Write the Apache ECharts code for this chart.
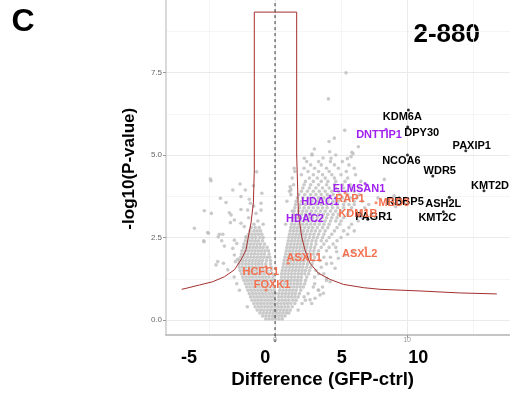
<!DOCTYPE html>
<html>
<head>
<meta charset="utf-8">
<script src="https://cdn.jsdelivr.net/npm/echarts@6/dist/echarts.min.js"></script>
<style>
html,body{margin:0;padding:0;background:#fff;}
#chart{width:510px;height:395px;}
</style>
</head>
<body>
<div id="chart"></div>
<script>
// ---------------- DATA ----------------
const yTickValues = [0, 2.5, 5, 7.5];
const xSmallTickValues = [0, 10];
const xBigTickValues = [-5, 0, 5, 10];
const xMajorGrid = [0, 10];
const xMinorGrid = [-5, 5, 15];
const yMajorGrid = [0, 2.5, 5, 7.5];
const yMinorGrid = [1.25, 3.75, 6.25, 8.75];

// threshold curve
const curveX = [-7.07,-6.74,-5.73,-4.72,-3.84,-3.08,-2.58,-2.2,-2.07,-1.82,-1.64,-1.57,-1.57,
                 1.64,1.64,1.77,2.02,2.27,2.65,3.28,4.17,5.17,6.69,7.95,10.98,14.0,16.8];
const curveY = [0.93,0.96,1.06,1.16,1.31,1.52,1.82,2.12,2.42,2.94,3.55,4.55,9.33,
                9.33,5.0,3.24,2.52,2.12,1.72,1.42,1.23,1.08,0.98,0.93,0.88,0.82,0.79];

// dashed zero line
const zeroLineX = [0, 0];
const zeroLineY = [-0.67, 9.7];

// gray cloud: rows of [y, x-values]
const cloudRows = [
 [0.03,[-0.7,-0.45,-0.2,0.05,0.3,0.55]],
 [0.12,[-0.95,-0.7,-0.45,-0.2,0.0,0.25,0.5,0.75]],
 [0.21,[-1.15,-0.9,-0.65,-0.4,-0.15,0.1,0.35,0.6,0.85,1.05]],
 [0.3,[-1.35,-1.1,-0.85,-0.6,-0.35,-0.1,0.15,0.4,0.65,0.9,1.15,1.75]],
 [0.4,[-2.1,-1.5,-1.25,-1.0,-0.75,-0.5,-0.25,0.0,0.25,0.5,0.75,1.0,1.3]],
 [0.5,[-1.6,-1.35,-1.1,-0.85,-0.6,-0.35,-0.1,0.2,0.45,0.7,0.95,1.2,1.5,2.05]],
 [0.6,[-1.75,-1.5,-1.25,-1.0,-0.75,-0.5,-0.25,0.0,0.3,0.55,0.8,1.05,1.35,1.6,2.3]],
 [0.7,[-1.85,-1.6,-1.35,-1.1,-0.85,-0.6,-0.35,-0.1,0.25,0.5,0.75,1.0,1.25,1.5,1.75,2.2]],
 [0.8,[-1.95,-1.7,-1.45,-1.2,-0.95,-0.7,-0.45,-0.2,0.05,0.3,0.55,0.8,1.05,1.3,1.55,1.85,2.5]],
 [0.9,[-2.7,-2.05,-1.8,-1.55,-1.3,-1.05,-0.8,-0.55,-0.3,-0.05,0.35,0.6,0.85,1.1,1.35,1.6,1.95,3.3]],
 [1.0,[-2.15,-1.9,-1.65,-1.4,-1.15,-0.9,-0.65,-0.4,-0.1,0.4,0.65,0.9,1.15,1.4,1.65,1.9,2.15,2.9,3.6]],
 [1.1,[-2.9,-2.25,-2.0,-1.75,-1.5,-1.25,-1.0,-0.75,-0.5,-0.2,0.45,0.7,0.95,1.2,1.45,1.7,1.95,2.25,3.0]],
 [1.2,[-2.35,-2.1,-1.85,-1.6,-1.35,-1.1,-0.85,-0.6,-0.3,-0.1,0.45,0.7,0.95,1.2,1.45,1.7,1.95,2.3,3.9]],
 [1.3,[-3.1,-2.45,-2.2,-1.95,-1.7,-1.45,-1.2,-0.95,-0.7,-0.45,-0.15,0.5,0.75,1.0,1.25,1.5,1.75,2.0,2.4,3.0]],
 [1.4,[-2.55,-2.3,-2.05,-1.8,-1.55,-1.3,-1.05,-0.8,-0.5,-0.2,0.5,0.75,1.0,1.25,1.5,1.75,2.0,2.25,2.55,3.3,3.7]],
 [1.5,[-2.65,-2.4,-2.15,-1.9,-1.65,-1.4,-1.15,-0.9,-0.6,-0.3,0.55,0.8,1.05,1.3,1.55,1.8,2.05,2.3,2.6,3.1]],
 [1.6,[-2.7,-2.45,-2.2,-1.95,-1.7,-1.45,-1.2,-0.95,-0.65,-0.3,0.6,0.85,1.1,1.35,1.6,1.85,2.1,2.4,2.7,3.5]],
 [1.7,[-2.75,-2.5,-2.25,-2.0,-1.75,-1.5,-1.25,-1.0,-0.7,-0.35,0.65,0.9,1.15,1.4,1.65,1.9,2.15,2.45,2.8,3.9]],
 [1.8,[-2.7,-2.45,-2.2,-1.95,-1.7,-1.45,-1.2,-0.95,-0.65,-0.35,0.7,0.95,1.2,1.45,1.7,1.95,2.2,2.5,2.9,3.4]],
 [1.9,[-2.6,-2.35,-2.1,-1.85,-1.6,-1.35,-1.1,-0.85,-0.6,-0.4,0.75,1.0,1.25,1.5,1.75,2.0,2.25,2.55,3.0,3.7,4.2]],
 [2.0,[-2.55,-2.3,-2.05,-1.8,-1.55,-1.3,-1.05,-0.8,-0.45,0.8,1.05,1.3,1.55,1.8,2.05,2.3,2.6,2.9,3.2]],
 [2.1,[-2.5,-2.25,-2.0,-1.75,-1.5,-1.25,-1.0,-0.75,-0.5,0.85,1.1,1.35,1.6,1.85,2.1,2.35,2.65,2.95,3.3,3.9]],
 [2.2,[-2.4,-2.15,-1.9,-1.65,-1.4,-1.15,-0.9,-0.6,0.9,1.15,1.4,1.65,1.9,2.15,2.4,2.7,3.0,3.5,4.1,4.6]],
 [2.3,[-2.35,-2.1,-1.85,-1.6,-1.35,-1.1,-0.8,0.95,1.2,1.45,1.7,1.95,2.2,2.45,2.75,3.1,3.7,4.4]],
 [2.4,[-2.25,-2.0,-1.75,-1.5,-1.25,-0.95,1.0,1.25,1.5,1.75,2.0,2.25,2.5,2.8,3.1,3.5,3.9,4.7]],
 [2.5,[-2.2,-1.95,-1.7,-1.45,-1.15,-0.9,1.05,1.3,1.55,1.8,2.05,2.3,2.6,2.9,3.2,3.6,4.1,5.0]],
 [2.6,[-2.0,-1.75,-1.5,-1.25,-1.0,1.1,1.35,1.6,1.85,2.1,2.35,2.65,2.95,3.3,3.7,4.3,5.5]],
 [2.7,[-1.9,-1.6,-1.35,-1.1,1.15,1.4,1.65,1.9,2.15,2.45,2.75,3.05,3.4,3.8,4.5,5.2,6.0]],
 [2.8,[-1.8,-1.5,-1.2,1.2,1.45,1.7,1.95,2.25,2.55,2.85,3.2,3.6,4.0,4.7,5.6]],
 [2.9,[-1.6,-0.9,1.25,1.5,1.8,2.1,2.4,2.7,3.0,3.35,3.7,4.1,4.9,5.8]],
 [3.0,[-1.3,1.3,1.6,1.9,2.2,2.5,2.8,3.1,3.45,3.8,4.2,4.6,5.0,6.3]],
 [3.1,[-2.0,1.35,1.65,1.95,2.25,2.55,2.85,3.2,3.55,3.9,4.3,4.7,5.2,6.6]],
 [3.2,[1.4,1.7,2.0,2.3,2.6,2.95,3.3,3.65,4.0,4.4,4.8,5.5,6.2,7.3]],
 [3.3,[1.45,1.8,2.1,2.4,2.75,3.1,3.45,3.8,4.2,4.6,5.0,5.6,6.5]],
 [3.4,[1.5,1.85,2.2,2.55,2.9,3.25,3.6,3.95,4.35,4.75,5.2,5.8,6.8]],
 [3.5,[1.55,1.9,2.3,2.7,3.1,3.5,3.9,4.3,4.7,5.2,5.6,6.0,7.1]],
 [3.6,[1.6,2.0,2.4,2.8,3.2,3.6,4.0,4.4,4.8,5.3,6.0,6.6]],
 [3.7,[1.7,2.1,2.5,2.9,3.3,3.7,4.1,4.6,5.1,5.7,6.2,7.8]],
 [3.8,[1.2,1.8,2.25,2.7,3.1,3.5,3.95,4.4,4.9,5.5,6.4]],
 [3.9,[1.1,2.0,2.45,2.9,3.35,3.8,4.3,4.8,5.4,6.0]],
 [4.0,[2.1,2.6,3.1,3.6,4.1,4.6,5.2,5.8,6.4]],
 [4.1,[1.4,2.2,2.7,3.3,3.9,4.5,5.1,5.7,6.9]],
 [4.2,[2.3,2.9,3.5,4.0,4.6,5.3,6.5]],
 [4.3,[1.3,2.6,3.2,3.8,4.5,5.5]],
 [4.4,[2.0,2.9,3.6,4.3,5.0,6.1]],
 [4.5,[1.5,2.5,3.3,4.1,5.4]],
 [4.6,[2.2,3.0,3.9,4.8,6.0]],
 [4.7,[2.7,3.5,4.5,5.6]],
 [4.8,[2.4,3.3,4.2,5.1]],
 [5.0,[2.8,4.6]]
];

// sparse gray points [x, y]
const sparsePoints = [
 [5.38,7.49],[4.04,6.70],[5.28,5.75],[4.49,5.51],[4.09,5.41],[2.98,5.18],[2.80,5.03],[4.14,5.10],
 [5.83,5.08],[5.91,5.04],[6.31,5.25],[2.22,4.90],[3.64,4.91],[4.24,4.90],[5.48,4.89],[5.76,4.95],
 [-4.9,4.27],[-4.85,4.22],[-2.65,4.12],[-3.2,3.94],[-2.25,3.94],[-1.64,4.07],[-1.39,4.49],[-4.14,3.69],
 [-3.71,3.56],[-2.58,3.74],[-1.95,3.66],[-1.87,3.54],[-1.0,3.84],[-1.06,3.54],[-5.36,3.31],[-4.82,3.23],
 [-3.46,3.25],[-3.33,3.18],[-2.58,3.35],[-2.07,3.33],[-1.62,3.45],[-1.44,3.23],[-1.06,3.33],[-3.08,3.03],
 [-2.58,2.93],[-2.33,2.83],[-3.38,2.95],[-6.11,2.78],[-5.1,2.65],[-4.22,2.6],[-3.96,2.6],[-4.3,2.52],
 [-5.4,2.4],[-4.04,2.4],[-3.84,2.24],[-3.08,2.42],[-2.9,2.32],[-3.2,2.17],[-2.2,2.52],[-4.47,1.67],
 [-3.91,1.72],[-3.58,1.52],[-3.08,1.97],[-3.0,1.77],[-2.83,1.84],[-5.05,2.63],[-5.38,2.37],[-4.34,1.77],
 [8.28,4.26],[9.02,3.76],[8.26,3.23],[9.14,3.43],[3.41,0.76],[3.66,0.81],[3.03,0.66],[2.65,0.61],
 [2.78,0.5],[3.28,0.91],[3.91,1.26],[4.17,1.16],[4.55,1.57],[4.29,1.72],[4.8,1.87],[5.3,1.97],
 [5.93,2.07],[4.67,2.07],[1.14,4.04],[0.9,3.6],[1.3,3.3],[0.8,2.9],[1.45,4.6],[1.2,3.95]
];

// labelled genes
const geneNames = ['KDM6A','DPY30','PAXIP1','NCOA6','WDR5','KMT2D','ASH2L','KMT2C','RBBP5','PAGR1',
                   'DNTTIP1','ELMSAN1','HDAC1','HDAC2',
                   'RAP1','KDM1B','MBD3','ASXL1','ASXL2','HCFC1','FOXK1'];
const geneX = [10.1,10.05,14.45,10.03,11.95,15.83,13.2,12.75,9.4,7.02,
               8.41,6.82,4.17,2.65,
               5.3,6.89,7.65,1.0,6.87,-0.7,-0.68];
const geneY = [6.36,5.85,5.13,5.0,4.36,3.92,3.72,3.28,3.7,3.05,
               5.78,4.14,3.76,3.21,
               3.85,3.33,3.55,1.72,2.19,1.61,0.91];
const geneGroup = ['COMPASS','COMPASS','COMPASS','COMPASS','COMPASS','COMPASS','COMPASS','COMPASS','COMPASS','COMPASS',
                   'HDAC','HDAC','HDAC','HDAC',
                   'other','other','other','other','other','other','other'];

// ---------------- LAYOUT / STYLE ----------------
const FONT = "'Liberation Sans', Arial, Helvetica, sans-serif";
const labelOffset = {
  KDM6A:[-6,7], DPY30:[14,6], PAXIP1:[6,-5], NCOA6:[-6,6], WDR5:[7,-5], KMT2D:[6,-5],
  ASH2L:[-6,7], KMT2C:[-6,6], RBBP5:[6,4], PAGR1:[6,-2], DNTTIP1:[-7,6], ELMSAN1:[-6,6],
  HDAC1:[-10,6], HDAC2:[-5,5], RAP1:[5,6], KDM1B:[-8,4], MBD3:[18,0], ASXL1:[16,-5],
  ASXL2:[-6,6], HCFC1:[-5,5], FOXK1:[6,-5]
};
const groupColor = {COMPASS:'#000000', HDAC:'#A020F0', other:'#F4704E'};

const cloudData = [];
cloudRows.forEach(r => r[1].forEach(x => cloudData.push([x, r[0]])));
sparsePoints.forEach(p => cloudData.push(p));

const curveData = curveX.map((x, i) => [x, curveY[i]]);
const zeroData = zeroLineX.map((x, i) => [x, zeroLineY[i]]);

function geneSeries(group) {
  const data = [];
  geneNames.forEach((n, i) => {
    if (geneGroup[i] !== group) return;
    data.push({name: n, value: [geneX[i], geneY[i]], label: {offset: labelOffset[n]}});
  });
  return {
    type: 'scatter', xAxisIndex: 0, yAxisIndex: 0, data: data, symbolSize: 3, silent: true,
    itemStyle: {color: groupColor[group]}, z: 10,
    label: {show: true, position: 'inside', formatter: '{b}', color: groupColor[group],
            textBorderWidth: 0, textBorderColor: 'transparent', opacity: 1,
            fontFamily: FONT, fontWeight: 'bold', fontSize: 11, align: 'center', verticalAlign: 'middle'}
  };
}

const gridLines = [];
xMinorGrid.forEach(v => gridLines.push({xAxis: v, lineStyle: {color: '#F2F2F2', width: 0.8, type: 'solid'}}));
yMinorGrid.forEach(v => gridLines.push({yAxis: v, lineStyle: {color: '#F2F2F2', width: 0.8, type: 'solid'}}));
xMajorGrid.forEach(v => gridLines.push({xAxis: v, lineStyle: {color: '#EAEAEA', width: 1, type: 'solid'}}));
yMajorGrid.forEach(v => gridLines.push({yAxis: v, lineStyle: {color: '#EAEAEA', width: 1, type: 'solid'}}));

const chart = echarts.init(document.getElementById('chart'), null, {renderer: 'canvas'});
chart.setOption({
  animation: false,
  backgroundColor: '#ffffff',
  grid: {left: 166, right: 0, top: 0, bottom: 60, containLabel: false},
  xAxis: [
    {type: 'value', min: -8.26, max: 17.8, position: 'bottom',
     axisLine: {show: true, onZero: false, lineStyle: {color: '#B3B3B3', width: 1.5}},
     axisTick: {show: true, customValues: xSmallTickValues, length: 3, lineStyle: {color: '#999'}},
     axisLabel: {show: true, customValues: xSmallTickValues, fontSize: 7, color: '#999', margin: 2, fontFamily: FONT},
     splitLine: {show: false}},
    {type: 'value', min: -6.5, max: 16.01, position: 'bottom',
     axisLine: {show: false}, axisTick: {show: false}, splitLine: {show: false},
     axisLabel: {show: true, customValues: xBigTickValues, fontSize: 18, fontWeight: 'bold',
                 color: '#000', margin: 14, fontFamily: FONT}}
  ],
  yAxis: [
    {type: 'value', min: -0.4545, max: 9.697,
     axisLine: {show: true, onZero: false, lineStyle: {color: '#CCCCCC', width: 1.5}},
     axisTick: {show: true, customValues: yTickValues, length: 3, lineStyle: {color: '#999'}},
     axisLabel: {show: true, customValues: yTickValues, fontSize: 8, color: '#666', margin: 4, fontFamily: FONT,
                 formatter: v => v.toFixed(1)},
     splitLine: {show: false}}
  ],
  series: [
    {type: 'line', data: [], silent: true, z: 0,
     markLine: {silent: true, z: 0, symbol: ['none','none'], label: {show: false},
                lineStyle: {type: 'solid'}, data: gridLines, animation: false}},
    {type: 'scatter', data: cloudData, symbolSize: 3.6, silent: true, z: 2,
     itemStyle: {color: '#BDBDBD'}},
    {type: 'line', data: curveData, showSymbol: false, silent: true, z: 3,
     lineStyle: {color: '#A3302F', width: 1}},
    {type: 'line', data: zeroData, showSymbol: false, silent: true, z: 4, clip: false,
     lineStyle: {color: '#333', width: 1, type: [3, 3]}},
    geneSeries('COMPASS'),
    geneSeries('HDAC'),
    geneSeries('other')
  ],
  graphic: [
    {type: 'text', x: 23, y: 22, style: {text: 'C', font: 'bold 32px ' + FONT, fill: '#000', textAlign: 'center', textVerticalAlign: 'middle'}},
    {type: 'text', x: 446.7, y: 35, style: {text: '2-880', font: 'bold 26px ' + FONT, fill: '#000', textAlign: 'center', textVerticalAlign: 'middle'}},
    {type: 'text', x: 322.7, y: 380, style: {text: 'Difference (GFP-ctrl)', font: 'bold 18.7px ' + FONT, fill: '#000', textAlign: 'center', textVerticalAlign: 'middle'}},
    {type: 'text', x: 129, y: 168.7, rotation: Math.PI / 2, style: {text: '-log10(P-value)', font: 'bold 17px ' + FONT, fill: '#000', textAlign: 'center', textVerticalAlign: 'middle'}}
  ]
});
</script>
</body>
</html>
